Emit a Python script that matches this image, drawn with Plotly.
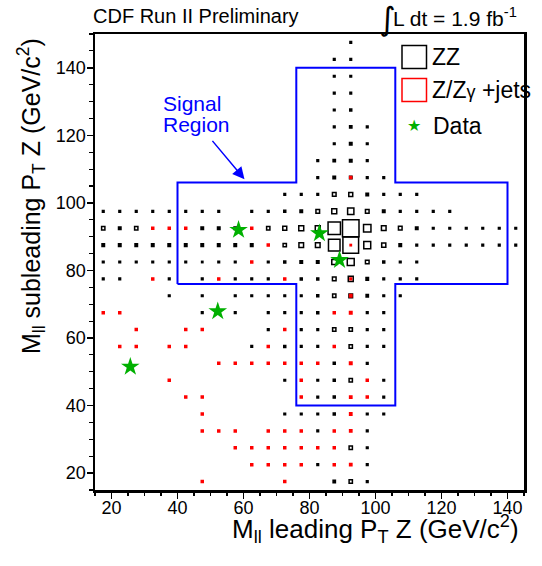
import plotly.graph_objects as go

BIN = 5.0  # GeV/c^2 bin width in both axes

# ---- ZZ expectation (box side relative to largest bin), row by row ----
zz_y = [147.5, 142.5, 137.5, 132.5, 127.5, 122.5, 117.5, 112.5, 107.5, 102.5,
        97.5, 92.5, 87.5, 82.5, 77.5, 72.5, 67.5, 62.5, 57.5, 52.5,
        47.5, 42.5, 37.5, 32.5, 27.5, 22.5, 17.5]
zz_x = [
    [92.5],
    [87.5, 92.5],
    [87.5, 92.5],
    [87.5, 92.5],
    [87.5, 92.5],
    [87.5, 92.5, 97.5],
    [87.5, 92.5, 97.5],
    [82.5, 87.5, 92.5, 97.5],
    [82.5, 87.5, 92.5, 97.5, 102.5],
    [72.5, 77.5, 82.5, 87.5, 92.5, 97.5, 102.5, 107.5, 112.5],
    [17.5, 22.5, 27.5, 32.5, 37.5, 42.5, 47.5, 52.5, 62.5, 67.5, 72.5, 77.5,
     82.5, 87.5, 92.5, 97.5, 102.5, 107.5, 112.5, 117.5, 122.5],
    [17.5, 22.5, 27.5, 47.5, 52.5, 57.5, 67.5, 72.5, 77.5, 82.5, 87.5, 92.5,
     97.5, 102.5, 107.5, 112.5, 117.5, 122.5, 127.5, 132.5, 137.5, 142.5],
    [17.5, 22.5, 27.5, 32.5, 37.5, 42.5, 47.5, 52.5, 57.5, 62.5, 72.5, 77.5,
     82.5, 87.5, 92.5, 97.5, 102.5, 107.5, 112.5, 117.5, 122.5, 127.5, 132.5,
     137.5, 142.5],
    [17.5, 22.5, 27.5, 32.5, 37.5, 42.5, 47.5, 52.5, 57.5, 67.5, 72.5, 77.5,
     82.5, 87.5, 92.5, 97.5, 102.5, 107.5, 112.5],
    [17.5, 22.5, 37.5, 47.5, 57.5, 62.5, 67.5, 77.5, 82.5, 87.5, 92.5, 97.5,
     102.5, 107.5, 112.5],
    [37.5, 47.5, 57.5, 62.5, 67.5, 72.5, 77.5, 82.5, 87.5, 92.5, 97.5, 102.5,
     107.5],
    [47.5, 57.5, 67.5, 72.5, 77.5, 82.5, 97.5, 102.5],
    [67.5, 77.5, 82.5, 87.5, 92.5, 97.5, 102.5],
    [62.5, 72.5, 77.5, 82.5, 92.5, 97.5, 102.5],
    [87.5, 97.5],
    [72.5, 82.5, 87.5, 92.5, 102.5],
    [82.5, 87.5, 102.5],
    [72.5, 77.5, 82.5, 87.5, 97.5, 102.5],
    [82.5, 97.5],
    [92.5, 97.5],
    [82.5, 97.5],
    [87.5, 92.5, 97.5],
]
zz_v = [
    [0.10],
    [0.10, 0.10],
    [0.10, 0.10],
    [0.10, 0.10],
    [0.10, 0.12],
    [0.10, 0.14, 0.10],
    [0.10, 0.15, 0.10],
    [0.10, 0.14, 0.15, 0.10],
    [0.10, 0.15, 0.15, 0.10, 0.10],
    [0.10, 0.10, 0.10, 0.22, 0.24, 0.15, 0.10, 0.10, 0.10],
    [0.10, 0.10, 0.10, 0.10, 0.10, 0.10, 0.10, 0.10, 0.10, 0.10, 0.12, 0.15,
     0.22, 0.30, 0.38, 0.22, 0.15, 0.10, 0.10, 0.10, 0.10],
    [0.20, 0.15, 0.20, 0.15, 0.15, 0.15, 0.20, 0.24, 0.30, 0.30, 0.75, 1.00,
     0.45, 0.28, 0.22, 0.15, 0.10, 0.10, 0.10, 0.10, 0.10, 0.10],
    [0.15, 0.15, 0.15, 0.15, 0.15, 0.15, 0.15, 0.15, 0.15, 0.15, 0.20, 0.28,
     0.28, 0.70, 0.95, 0.42, 0.25, 0.15, 0.10, 0.10, 0.10, 0.10, 0.10, 0.10,
     0.10],
    [0.10, 0.10, 0.10, 0.10, 0.10, 0.10, 0.08, 0.10, 0.10, 0.10, 0.12, 0.15,
     0.15, 0.30, 0.42, 0.22, 0.12, 0.10, 0.10],
    [0.10, 0.10, 0.10, 0.10, 0.10, 0.10, 0.10, 0.12, 0.12, 0.22, 0.30, 0.15,
     0.10, 0.10, 0.10],
    [0.10, 0.10, 0.10, 0.10, 0.10, 0.10, 0.10, 0.12, 0.20, 0.22, 0.14, 0.10,
     0.10],
    [0.10, 0.10, 0.10, 0.10, 0.10, 0.12, 0.10, 0.10],
    [0.10, 0.10, 0.10, 0.20, 0.20, 0.10, 0.10],
    [0.10, 0.12, 0.10, 0.10, 0.20, 0.10, 0.10],
    [0.12, 0.10],
    [0.10, 0.10, 0.12, 0.20, 0.10],
    [0.10, 0.12, 0.10],
    [0.10, 0.10, 0.10, 0.12, 0.10, 0.10],
    [0.10, 0.10],
    [0.20, 0.10],
    [0.10, 0.10],
    [0.14, 0.20, 0.10],
]

# ---- Z/Zgamma + jets expectation ----
zj_y = [107.5, 92.5, 87.5, 82.5, 77.5, 72.5, 67.5, 62.5, 57.5, 52.5,
        47.5, 42.5, 37.5, 32.5, 27.5, 22.5, 17.5]
zj_x = [
    [92.5],
    [32.5, 37.5, 42.5, 62.5],
    [67.5, 92.5],
    [62.5],
    [32.5, 52.5, 72.5, 92.5],
    [92.5],
    [17.5, 22.5, 87.5, 92.5],
    [27.5, 42.5, 47.5, 72.5],
    [22.5, 27.5, 37.5, 42.5, 67.5, 87.5],
    [52.5, 57.5, 62.5, 67.5, 72.5, 77.5, 82.5, 92.5],
    [37.5, 77.5, 97.5],
    [42.5, 47.5, 77.5, 92.5, 97.5],
    [47.5, 92.5],
    [47.5, 52.5, 57.5, 67.5, 72.5, 77.5, 87.5, 92.5],
    [57.5, 62.5, 67.5, 72.5, 77.5, 82.5, 87.5],
    [62.5, 67.5, 72.5, 77.5, 87.5, 92.5],
    [47.5, 72.5],
]
zj_v = [
    [0.12],
    [0.12, 0.12, 0.12, 0.12],
    [0.12, 0.08],
    [0.12],
    [0.12, 0.12, 0.12, 0.10],
    [0.14],
    [0.12, 0.12, 0.12, 0.15],
    [0.12, 0.12, 0.12, 0.12],
    [0.12, 0.12, 0.12, 0.12, 0.12, 0.12],
    [0.12, 0.12, 0.12, 0.12, 0.12, 0.12, 0.12, 0.15],
    [0.12, 0.12, 0.12],
    [0.12, 0.12, 0.12, 0.14, 0.12],
    [0.12, 0.14],
    [0.12, 0.12, 0.12, 0.12, 0.12, 0.12, 0.12, 0.14],
    [0.12, 0.12, 0.12, 0.12, 0.12, 0.12, 0.12],
    [0.12, 0.12, 0.12, 0.12, 0.12, 0.14],
    [0.12, 0.12],
]

# ---- observed data ----
data_x = [25.7, 52.2, 58.5, 83.0, 89.1]
data_y = [51.5, 67.9, 92.0, 91.0, 83.1]

# ---- signal region outline ----
sig_x = [40, 40, 76, 76, 106, 106, 140, 140, 106, 106, 76, 76, 40]
sig_y = [76, 106, 106, 140, 140, 106, 106, 76, 76, 40, 40, 76, 76]

FONT = "Liberation Sans, Arial, Helvetica, sans-serif"
BLUE = "#0000ff"
RED = "#ff0000"
GREEN = "#00b000"

W, H = 542, 566
PL, PT, PW, PH = 95, 34, 429, 456      # plot area in page pixels

fig = go.Figure()
shapes = []


def add_boxes(ys, xs, vs, color):
    for y, xrow, vrow in zip(ys, xs, vs):
        for x, v in zip(xrow, vrow):
            h = v * BIN / 2.0
            shapes.append(dict(
                type="rect", xref="x", yref="y",
                x0=x - h, x1=x + h, y0=y - h, y1=y + h,
                line=dict(color=color, width=1.5),
                fillcolor=color if v < 0.2 else "rgba(0,0,0,0)",
                layer="below"))


add_boxes(zz_y, zz_x, zz_v, "#000000")
add_boxes(zj_y, zj_x, zj_v, RED)

fig.add_trace(go.Scatter(x=sig_x, y=sig_y, mode="lines",
                         line=dict(color=BLUE, width=2), hoverinfo="skip",
                         showlegend=False))
fig.add_trace(go.Scatter(x=data_x, y=data_y, mode="markers",
                         marker=dict(symbol="star", size=14, color=GREEN,
                                     line=dict(width=0)),
                         showlegend=False))


def px(xp):
    return (xp - PL) / PW


def py(yp):
    return (PT + PH - yp) / PH


# legend (drawn by hand, ROOT-style)
shapes.append(dict(type="rect", xref="paper", yref="paper",
                   x0=px(402), x1=px(426.5), y0=py(45.5), y1=py(68.5),
                   line=dict(color="black", width=1.5), layer="above"))
shapes.append(dict(type="rect", xref="paper", yref="paper",
                   x0=px(402), x1=px(426.5), y0=py(78.5), y1=py(101.5),
                   line=dict(color=RED, width=1.5), layer="above"))

ann = []
ann.append(dict(xref="paper", yref="paper", x=px(430), y=py(57),
                xanchor="left", yanchor="middle", showarrow=False,
                text="ZZ", font=dict(family=FONT, size=23, color="black")))
ann.append(dict(xref="paper", yref="paper", x=px(430), y=py(90),
                xanchor="left", yanchor="middle", showarrow=False,
                text="Z/Z<span style='font-size:18px'>γ</span> +jets",
                font=dict(family=FONT, size=23, color="black")))
ann.append(dict(xref="paper", yref="paper", x=px(431), y=py(126),
                xanchor="left", yanchor="middle", showarrow=False,
                text="Data", font=dict(family=FONT, size=23, color="black")))
ann.append(dict(xref="paper", yref="paper", x=px(414), y=py(125),
                xanchor="center", yanchor="middle", showarrow=False,
                text="★", font=dict(family="DejaVu Sans", size=16, color=GREEN)))

# header texts
ann.append(dict(xref="paper", yref="paper", x=px(91), y=py(16),
                xanchor="left", yanchor="middle", showarrow=False,
                text="CDF Run II Preliminary",
                font=dict(family=FONT, size=20, color="black")))
ann.append(dict(xref="paper", yref="paper", x=px(377), y=py(19),
                xanchor="left", yanchor="middle", showarrow=False,
                text="∫", font=dict(family="DejaVu Sans", size=32, color="black")))
ann.append(dict(xref="paper", yref="paper", x=px(391), y=py(17),
                xanchor="left", yanchor="middle", showarrow=False,
                text="L dt = 1.9 fb<sup>-1</sup>",
                font=dict(family=FONT, size=21, color="black")))

# signal region label and arrow
ann.append(dict(xref="x", yref="y", x=35.0, y=129.5,
                xanchor="left", yanchor="middle", showarrow=False,
                text="Signal", font=dict(family=FONT, size=21, color=BLUE)))
ann.append(dict(xref="x", yref="y", x=35.0, y=123.3,
                xanchor="left", yanchor="middle", showarrow=False,
                text="Region", font=dict(family=FONT, size=21, color=BLUE)))
ann.append(dict(xref="x", yref="y", x=60.3, y=107.0,
                axref="x", ayref="y", ax=50.2, ay=118.8,
                text="", showarrow=True, arrowhead=2, arrowsize=1.6,
                arrowwidth=1.5, arrowcolor=BLUE, standoff=0, startstandoff=0))

# axis titles
ann.append(dict(xref="paper", yref="paper", x=px(521), y=py(529),
                xanchor="right", yanchor="middle", showarrow=False,
                text="M<sub>ll</sub> leading P<sub>T</sub> Z (GeV/c<sup>2</sup>)",
                font=dict(family=FONT, size=26, color="black")))
ann.append(dict(xref="paper", yref="paper", x=px(31), y=py(36),
                xanchor="center", yanchor="top", showarrow=False,
                textangle=-90,
                text="M<sub>ll</sub> subleading P<sub>T</sub> Z (GeV/c<sup>2</sup>)",
                font=dict(family=FONT, size=25, color="black")))

axis_common = dict(
    showgrid=False, zeroline=False, showline=True, linecolor="black",
    linewidth=2.5, mirror=True, ticks="outside", ticklen=6, tickwidth=1.5,
    tickcolor="black", dtick=20, tick0=0, automargin=False,
    tickfont=dict(family=FONT, size=18, color="black"),
    minor=dict(dtick=5, tick0=0, ticks="outside", ticklen=3.5, tickwidth=1.2,
               tickcolor="black", showgrid=False),
)

fig.update_layout(
    width=W, height=H,
    margin=dict(l=PL, r=W - PL - PW, t=PT, b=H - PT - PH),
    plot_bgcolor="white", paper_bgcolor="white",
    xaxis=dict(range=[15, 145], ticklabelstandoff=-6, **axis_common),
    yaxis=dict(range=[15, 150], ticklabelstandoff=-3, **axis_common),
    shapes=shapes, annotations=ann, showlegend=False,
)

# remove the browser's default 8px page margin so the figure fills the window
fig.write_html("out.html",
               config={"displayModeBar": False, "staticPlot": True},
               post_script="document.body.style.margin='0px';"
                           "document.body.style.overflow='hidden';")
